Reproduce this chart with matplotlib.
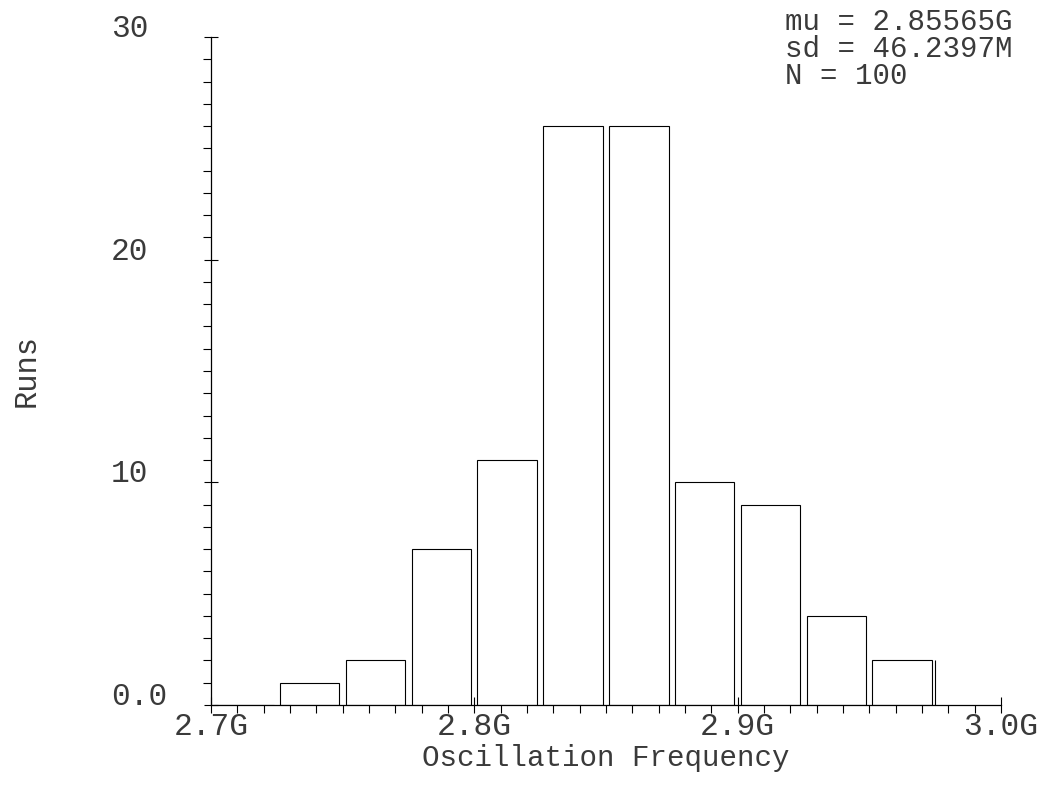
import matplotlib.pyplot as plt
from matplotlib.ticker import FixedLocator, FixedFormatter, MultipleLocator

# histogram bins (GHz) and counts
bin_left = [2.7012, 2.7262, 2.7512, 2.7762, 2.8012, 2.8262,
            2.8512, 2.8762, 2.9012, 2.9262, 2.9512]
counts = [0, 1, 2, 7, 11, 26, 26, 10, 9, 4, 2]
bar_width = 0.0226
extra_edge = 2.9748

x_ticks = [2.7, 2.8, 2.9, 3.0]
x_labels = ["2.7G", "2.8G", "2.9G", "3.0G"]
y_ticks = [0, 10, 20, 30]
y_labels = ["0.0", "10", "20", "30"]

stats = ["mu = 2.85565G", "sd = 46.2397M", "N = 100"]

plt.rcParams['font.family'] = ['Liberation Mono', 'DejaVu Sans Mono']
txt = '#3a3a3a'

fig = plt.figure(figsize=(10.56, 7.86), dpi=100)
ax = fig.add_axes([0.1998, 0.1031, 0.7481, 0.8498])

ax.bar(bin_left, counts, width=bar_width, align='edge',
       facecolor='white', edgecolor='black', linewidth=0.8)
ax.vlines(extra_edge, 0, counts[-1], color='black', linewidth=0.8)

ax.set_xlim(2.7, 3.0)
ax.set_ylim(0, 30)

for s in ['top', 'right']:
    ax.spines[s].set_visible(False)
for s in ['left', 'bottom']:
    ax.spines[s].set_linewidth(0.9)

ax.xaxis.set_major_locator(FixedLocator(x_ticks))
ax.xaxis.set_major_formatter(FixedFormatter(x_labels))
ax.xaxis.set_minor_locator(MultipleLocator(0.01))
ax.yaxis.set_major_locator(FixedLocator(y_ticks))
ax.yaxis.set_major_formatter(FixedFormatter(y_labels))
ax.yaxis.set_minor_locator(MultipleLocator(1))

ax.tick_params(axis='x', which='major', direction='inout', length=11.5,
               width=0.8, labelsize=22.5, labelcolor=txt, pad=-1)
ax.tick_params(axis='x', which='minor', direction='out', length=6, width=0.8)
ax.tick_params(axis='y', which='major', direction='inout', length=10,
               width=0.8, labelsize=22.5, labelcolor=txt, pad=67)
ax.tick_params(axis='y', which='minor', direction='out', length=5.8, width=0.8)
for lab in ax.get_yticklabels():
    lab.set_horizontalalignment('left')
    lab.set_verticalalignment('baseline')

ax.set_xlabel("Oscillation Frequency", fontsize=21, color=txt, labelpad=2)
ax.set_ylabel("Runs", fontsize=22, color=txt)
ax.yaxis.set_label_coords(-0.214, 0.5)

fig.text(785 / 1056, 1 - 8 / 786, "\n".join(stats), fontsize=21,
         color=txt, ha='left', va='top', linespacing=0.95)

fig.savefig("out.png", dpi=100)
